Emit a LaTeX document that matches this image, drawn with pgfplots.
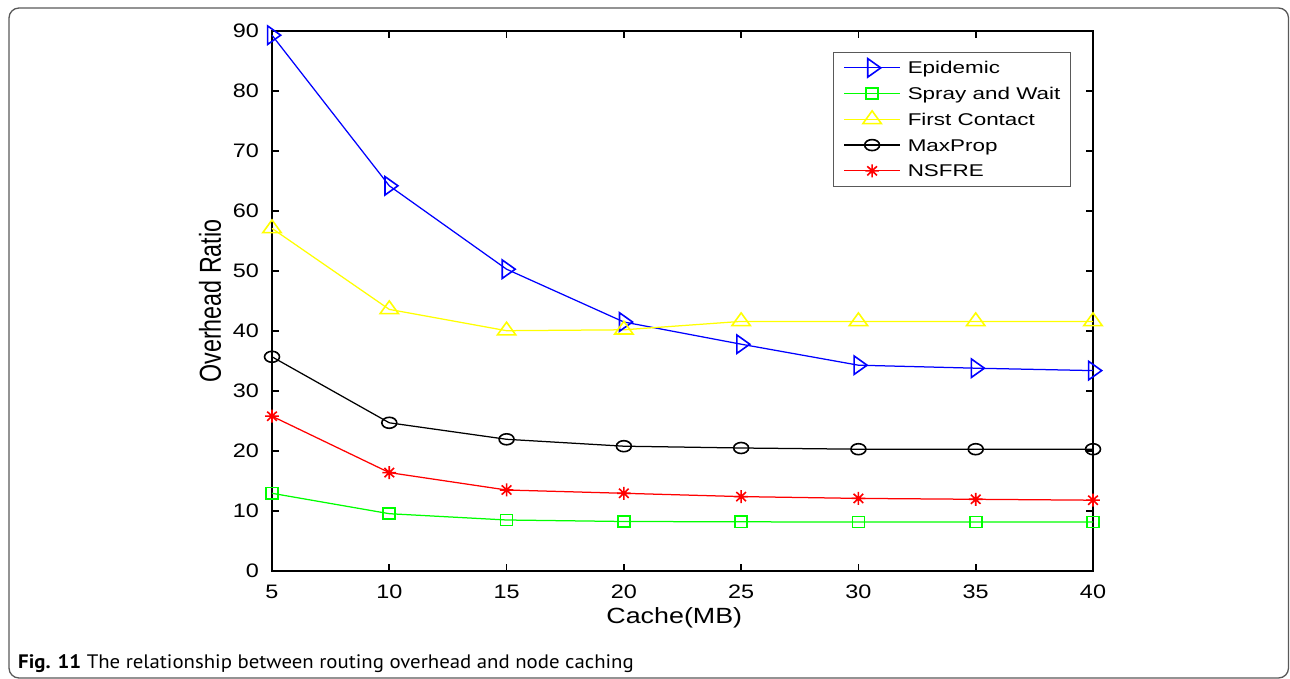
\documentclass[border=0pt]{standalone}
\usepackage{pgfplots}
\pgfplotsset{compat=1.18}
\usepackage{fontspec}
\setmainfont{Liberation Sans}
\newfontfamily\tickfont[FakeStretch=1.2]{Liberation Sans}
\newfontfamily\lblfont[FakeStretch=1.22]{Liberation Sans}
\newfontfamily\legfont[FakeStretch=1.32]{Liberation Sans}
\newfontfamily\ylfont{Liberation Sans}
\newfontfamily\capfont[FakeStretch=1.067]{PT Sans}
\definecolor{mblue}{RGB}{0,0,255}
\definecolor{mgreen}{RGB}{0,255,0}
\definecolor{myellow}{RGB}{255,255,0}
\definecolor{mred}{RGB}{255,0,0}
\pgfdeclareplotmark{mstar}{%
 \pgfpathmoveto{\pgfqpoint{-\pgfplotmarksize}{0pt}}\pgfpathlineto{\pgfqpoint{\pgfplotmarksize}{0pt}}%
 \pgfpathmoveto{\pgfqpoint{0pt}{-\pgfplotmarksize}}\pgfpathlineto{\pgfqpoint{0pt}{\pgfplotmarksize}}%
 \pgfpathmoveto{\pgfqpoint{-0.7071\pgfplotmarksize}{-0.7071\pgfplotmarksize}}\pgfpathlineto{\pgfqpoint{0.7071\pgfplotmarksize}{0.7071\pgfplotmarksize}}%
 \pgfpathmoveto{\pgfqpoint{-0.7071\pgfplotmarksize}{0.7071\pgfplotmarksize}}\pgfpathlineto{\pgfqpoint{0.7071\pgfplotmarksize}{-0.7071\pgfplotmarksize}}%
 \pgfusepathqstroke}
\begin{document}
\begin{tikzpicture}
\useasboundingbox (0,0) rectangle (1290bp,679bp);
\draw[black!65, line width=1.3bp, rounded corners=10bp] (9bp,1bp) rectangle (1288.5bp,671bp);
\node[anchor=base west, inner sep=0pt, font=\capfont\fontsize{19.5bp}{21bp}\selectfont] at (18bp,11bp) {\textbf{Fig. 11} The relationship between routing overhead and node caching};
\begin{axis}[
  at={(272bp,108bp)}, anchor=south west,
  scale only axis, width=821bp, height=540bp,
  xmin=5, xmax=40, ymin=0, ymax=90,
  xtick={5,10,...,40}, ytick={0,10,...,90},
  clip=false,
  axis line style={line width=1.6bp},
  tick style={line width=1.6bp, black},
  major tick length=7bp, tick align=inside,
  /pgf/number format/assume math mode=true,
  ticklabel style={font=\tickfont\fontsize{19.5bp}{20bp}\selectfont, inner sep=0pt},
  xticklabel style={yshift=-14bp},
  yticklabel style={xshift=-13bp},
  xlabel={Cache(MB)},
  xlabel style={at={(axis description cs:0.490,-0.0981)}, anchor=base, inner sep=0pt, font=\lblfont\fontsize{22bp}{24bp}\selectfont},
  ylabel={\scalebox{1}[1.3]{Overhead Ratio}},
  ylabel style={at={(axis description cs:-0.0755,0.5)}, anchor=center, inner sep=0pt, font=\ylfont\fontsize{23.3bp}{25bp}\selectfont},
  legend style={at={(rel axis cs:0.6833,0.9617)}, anchor=north west, draw=black!65, line width=1bp,
    inner xsep=10bp, inner ysep=2.8bp, row sep=0pt, column sep=7bp,
    nodes={inner sep=0pt, text height=18.9bp, text depth=6.85bp},
    font=\legfont\fontsize{17bp}{19bp}\selectfont},
  legend cell align=left,
  legend image code/.code={\draw[mark repeat=2,mark phase=2] plot coordinates {(0bp,0bp) (28bp,0bp) (56bp,0bp)};},
  every axis plot/.append style={line width=1.25bp},
]
\addplot[mblue, mark=triangle, mark size=8.66bp, mark options={rotate=-90, xscale=1.23, line width=1.6bp}] coordinates {
(5,89.3) (10,64.2) (15,50.3) (20,41.5) (25,37.8) (30,34.3) (35,33.8) (40,33.4)};
\addlegendentry{Epidemic}
\addplot[mgreen, mark=square, mark size=5.6bp, mark options={xscale=1.07, line width=1.6bp}] coordinates {
(5,12.95) (10,9.55) (15,8.5) (20,8.25) (25,8.2) (30,8.15) (35,8.15) (40,8.15)};
\addlegendentry{Spray and Wait}
\addplot[myellow, mark=triangle, mark size=8.5bp, mark options={xscale=1.25, line width=1.6bp}] coordinates {
(5,57.1) (10,43.6) (15,40.05) (20,40.2) (25,41.6) (30,41.6) (35,41.6) (40,41.6)};
\addlegendentry{First Contact}
\addplot[black, mark=o, mark size=5.5bp, mark options={xscale=1.36, line width=1.6bp}] coordinates {
(5,35.7) (10,24.7) (15,21.95) (20,20.8) (25,20.5) (30,20.3) (35,20.3) (40,20.3)};
\addlegendentry{MaxProp}
\addplot[mred, mark=mstar, mark size=6.5bp, mark options={xscale=1.05, line width=1.6bp}] coordinates {
(5,25.8) (10,16.4) (15,13.5) (20,12.95) (25,12.4) (30,12.1) (35,11.95) (40,11.8)};
\addlegendentry{NSFRE}
\end{axis}
\end{tikzpicture}
\end{document}
